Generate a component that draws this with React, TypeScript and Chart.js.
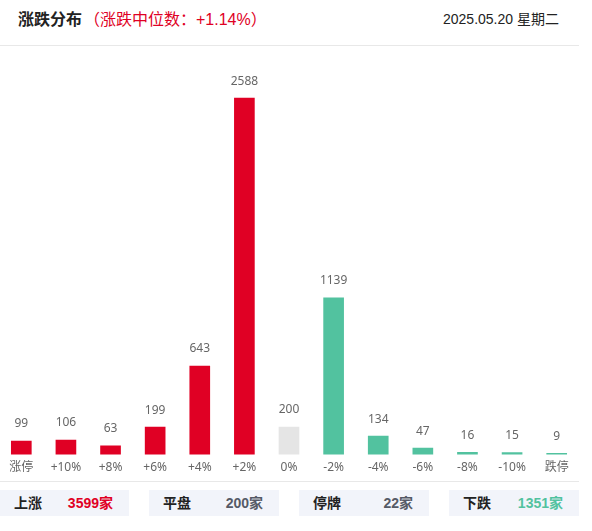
import React, { useEffect, useRef } from "react";
import { Chart, registerables } from "chart.js";

Chart.register(...registerables);

const categories = ["涨停", "+10%", "+8%", "+6%", "+4%", "+2%", "0%", "-2%", "-4%", "-6%", "-8%", "-10%", "跌停"];
const values = [99, 106, 63, 199, 643, 2588, 200, 1139, 134, 47, 16, 15, 9];
const RED = "#e00024";
const GREEN = "#52c29f";
const GRAY = "#e5e5e5";
const barColors = [RED, RED, RED, RED, RED, RED, GRAY, GREEN, GREEN, GREEN, GREEN, GREEN, GREEN];
const summaryLabels = ["上涨", "平盘", "停牌", "下跌"];
const summaryCounts = ["3599", "200", "22", "1351"];
const summaryColors = ["#e00024", "#555a66", "#555a66", "#52c29f"];

const FONT = '"Liberation Sans", "Noto Sans CJK SC", sans-serif';
const CHART_FONT = '"Noto Sans", "Noto Sans CJK SC", sans-serif';

const valueLabels = {
  id: "valueLabels",
  afterDatasetsDraw(chart: any) {
    const { ctx } = chart;
    const meta = chart.getDatasetMeta(0);
    ctx.save();
    ctx.font = `12px ${CHART_FONT}`;
    ctx.fillStyle = "#666666";
    ctx.textAlign = "center";
    ctx.textBaseline = "middle";
    meta.data.forEach((bar: any, i: number) => {
      ctx.fillText(String(values[i]), bar.x, bar.y - 17);
    });
    ctx.restore();
  },
};

export default function App() {
  const ref = useRef<HTMLCanvasElement>(null);
  useEffect(() => {
    const chart = new Chart(ref.current!, {
      type: "bar",
      data: {
        labels: categories,
        datasets: [{ data: values, backgroundColor: barColors, barThickness: 20, borderWidth: 0 }],
      },
      options: {
        animation: false,
        responsive: false,
        devicePixelRatio: 1,
        layout: { padding: 0 },
        plugins: { legend: { display: false }, tooltip: { enabled: false } },
        scales: {
          x: {
            grid: { display: false },
            border: { display: false },
            ticks: { color: "#666666", font: { size: 12, family: CHART_FONT }, padding: -2, maxRotation: 0, autoSkip: false },
          },
          y: { display: false, min: 0, max: 2967 },
        },
      },
      plugins: [valueLabels],
    });
    return () => chart.destroy();
  }, []);

  return (
    <div style={{ position: "absolute", left: 0, top: 0, width: 592, height: 531, background: "#fff", fontFamily: FONT, overflow: "hidden" }}>
      <div style={{ position: "absolute", left: 18, top: 9, fontSize: 16, lineHeight: "22px", fontWeight: 700, color: "#222" }}>涨跌分布</div>
      <div style={{ position: "absolute", left: 84, top: 9, fontSize: 16, lineHeight: "22px", color: "#e00024", whiteSpace: "nowrap" }}>（涨跌中位数：+1.14%）</div>
      <div style={{ position: "absolute", left: 443, top: 9, fontSize: 14, lineHeight: "20px", color: "#222", whiteSpace: "nowrap" }}>2025.05.20 星期二</div>
      <div style={{ position: "absolute", left: 0, top: 45, width: 579, height: 1, background: "#e8e8e8" }} />
      <canvas ref={ref} width={580} height={427} style={{ position: "absolute", left: -1, top: 46, width: 580, height: 427 }} />
      <div style={{ position: "absolute", left: 0, top: 481, width: 579, height: 1, background: "#e8e8e8" }} />
      {summaryLabels.map((label, i) => (
        <div key={label} style={{ position: "absolute", left: i * 150 - (i === 0 ? 0 : 1), top: 490, width: i === 0 ? 129 : 130, height: 26, background: "#f2f4fa", fontSize: 14, lineHeight: "26px", fontWeight: 700 }}>
          <span style={{ position: "absolute", left: 14, color: "#222" }}>{label}</span>
          <span style={{ position: "absolute", right: 16, color: summaryColors[i], whiteSpace: "nowrap" }}>
            {summaryCounts[i]}家
          </span>
        </div>
      ))}
    </div>
  );
}
